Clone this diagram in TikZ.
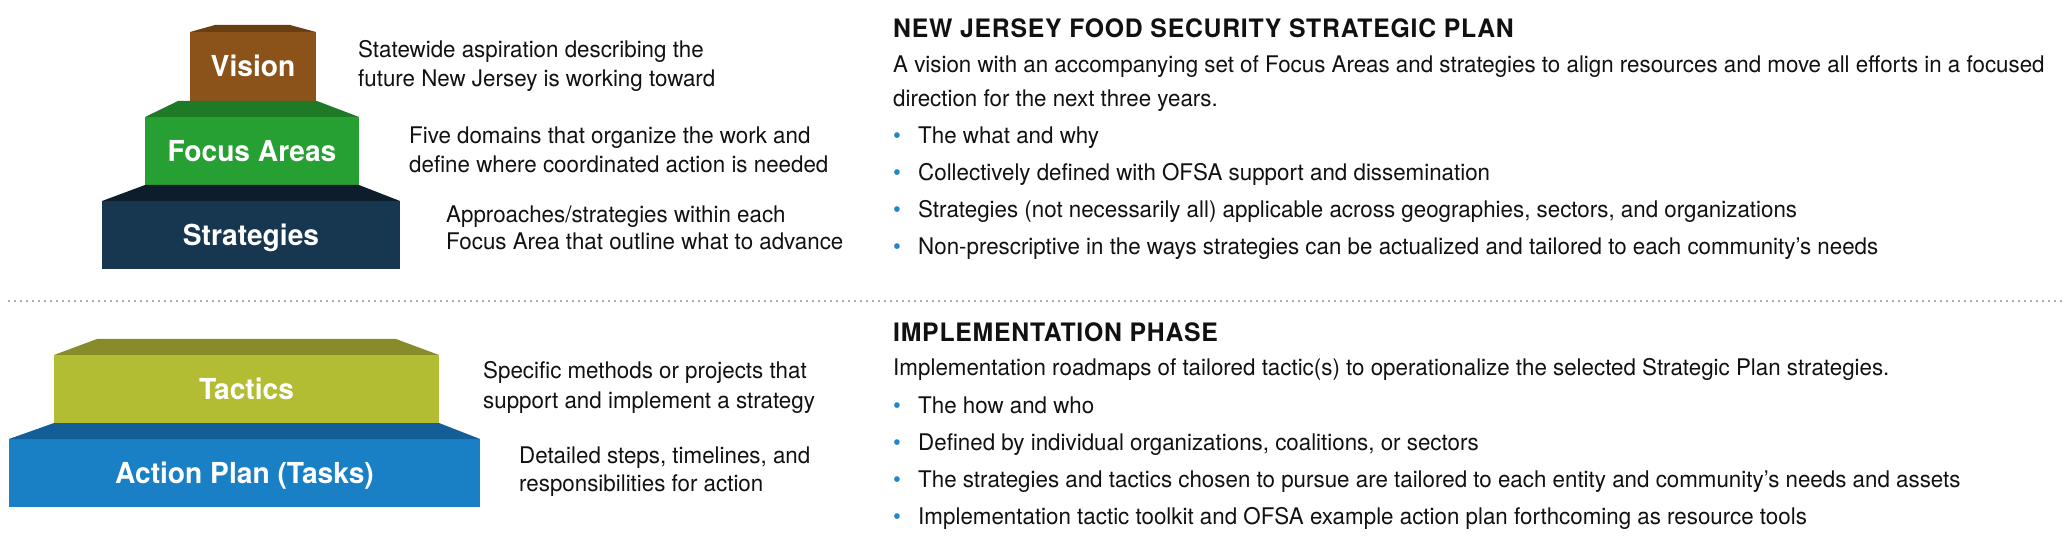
\documentclass[tikz,border=0pt]{standalone}
\usepackage{fontspec}
\setmainfont{TeX Gyre Heros}[FakeStretch=0.975]
\newfontfamily\headfont{TeX Gyre Heros}[FakeStretch=0.975,LetterSpace=3]
\definecolor{txt}{HTML}{111111}
\definecolor{visionfront}{HTML}{8B521A}
\definecolor{visiontop}{HTML}{6A3E13}
\definecolor{focusfront}{HTML}{27A033}
\definecolor{focustop}{HTML}{1E7A26}
\definecolor{stratfront}{HTML}{17364F}
\definecolor{strattop}{HTML}{0D1D2B}
\definecolor{tacticsfront}{HTML}{B3BD33}
\definecolor{tacticstop}{HTML}{878B2A}
\definecolor{actionfront}{HTML}{1A80C6}
\definecolor{actiontop}{HTML}{135E96}
\definecolor{bulletblue}{HTML}{1E88C8}
\definecolor{dotgray}{HTML}{8A9497}
\begin{document}
\begin{tikzpicture}[x=1bp,y=-1bp,
  stepface/.style={fill=#1,draw=none,inner sep=0,outer sep=0,text=white,
    font=\fontsize{29}{30}\selectfont\bfseries,text height=21bp,text depth=0bp,minimum height=68bp},
  desc/.style={anchor=base west,inner sep=0,font=\fontsize{23}{24}\selectfont,text=txt},
  head/.style={anchor=base west,inner sep=0,font=\headfont\fontsize{25.5}{26}\selectfont\bfseries,text=txt},
  bul/.style={anchor=base west,inner sep=0,font=\fontsize{23}{24}\selectfont,text=bulletblue},
  sep/.style={draw=dotgray,line width=2.2bp,line cap=round,dash pattern=on 0bp off 6bp}
]
\useasboundingbox (0,0) rectangle (2072,549);

% ---- top pyramid ----
\node[stepface=visionfront,minimum width=126bp,minimum height=69bp] (vision) at (253,66.5) {Vision};
\node[stepface=focusfront,minimum width=214bp] (focus) at (252,151) {Focus Areas};
\node[stepface=stratfront,minimum width=298bp] (strat) at (251,235) {Strategies};
\fill[visiontop] (215,25) -- (290,25) -- (vision.north east) -- (vision.north west) -- cycle;
\fill[focustop] (178,101) -- (317,101) -- (focus.north east) -- (focus.north west) -- cycle;
\fill[strattop] (145,185) -- (359,185) -- (strat.north east) -- (strat.north west) -- cycle;

% ---- bottom pyramid ----
\node[stepface=tacticsfront,minimum width=385bp] (tactics) at (246.5,389) {Tactics};
\node[stepface=actionfront,minimum width=471bp] (action) at (244.5,473) {Action Plan (Tasks)};
\fill[tacticstop] (97,339) -- (396,339) -- (tactics.north east) -- (tactics.north west) -- cycle;
\fill[actiontop] (54,423) -- (439,423) -- (action.north east) -- (action.north west) -- cycle;

% ---- descriptions ----
\node[desc] (d1a) at (358,58) {Statewide aspiration describing the};
\node[desc] (d1b) at (358,87) {future New Jersey is working toward};
\node[desc] (d2a) at (409,144) {Five domains that organize the work and};
\node[desc] (d2b) at (409,173) {define where coordinated action is needed};
\node[desc] (d3a) at (446,223) {Approaches/strategies within each};
\node[desc] (d3b) at (446,250) {Focus Area that outline what to advance};
\node[desc] (d4a) at (483,379) {Specific methods or projects that};
\node[desc] (d4b) at (483,408) {support and implement a strategy};
\node[desc] (d5a) at (519,463) {Detailed steps, timelines, and};
\node[desc] (d5b) at (519,491) {responsibilities for action};

% ---- separator ----
\coordinate (sepl) at (9,301);
\coordinate (sepr) at (2066,301);
\draw[sep] (sepl) -- (sepr);

% ---- right column, top ----
\node[head] (h1) at (893,38) {NEW JERSEY FOOD SECURITY STRATEGIC PLAN};
\node[desc] (p1a) at (893,73) {A vision with an accompanying set of Focus Areas and strategies to align resources and move all efforts in a focused};
\node[desc] (p1b) at (893,107) {direction for the next three years.};
\foreach \y/\t [count=\i] in {144/{The what and why},
  181/{Collectively defined with OFSA support and dissemination},
  218/{Strategies (not necessarily all) applicable across geographies, sectors, and organizations},
  255/{Non-prescriptive in the ways strategies can be actualized and tailored to each community’s needs}}{
  \node[bul] (b1\i) at (893,\y) {\textbullet};
  \node[desc] (t1\i) at (918,\y) {\t};
}

% ---- right column, bottom ----
\node[head] (h2) at (893,342) {IMPLEMENTATION PHASE};
\node[desc] (p2a) at (893,376) {Implementation roadmaps of tailored tactic(s) to operationalize the selected Strategic Plan strategies.};
\foreach \y/\t [count=\i] in {413/{The how and who},
  450/{Defined by individual organizations, coalitions, or sectors},
  487/{The strategies and tactics chosen to pursue are tailored to each entity and community’s needs and assets},
  524/{Implementation tactic toolkit and OFSA example action plan forthcoming as resource tools}}{
  \node[bul] (b2\i) at (893,\y) {\textbullet};
  \node[desc] (t2\i) at (918,\y) {\t};
}
\end{tikzpicture}
\end{document}
